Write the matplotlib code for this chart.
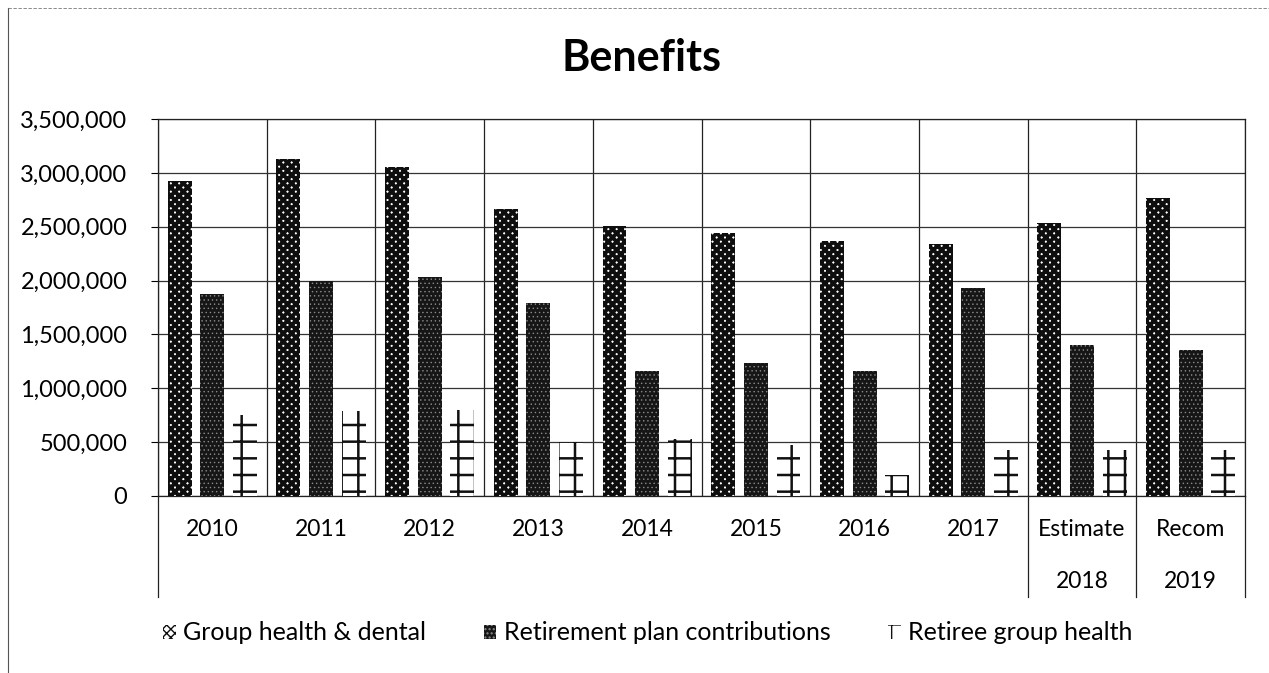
import matplotlib
matplotlib.use("Agg")
import matplotlib.pyplot as plt
import numpy as np
from matplotlib.ticker import FuncFormatter, MultipleLocator
from matplotlib.lines import Line2D

plt.rcParams['font.family'] = ['Lato', 'DejaVu Sans']

# Category labels (two rows under the axis)
labels_top = ["2010", "2011", "2012", "2013", "2014", "2015", "2016", "2017", "Estimate", "Recom"]
labels_bottom = ["", "", "", "", "", "", "", "", "2018", "2019"]

# Series values
group_health = [2920000, 3130000, 3055000, 2665000, 2510000, 2440000, 2365000, 2340000, 2535000, 2770000]
retirement = [1875000, 2000000, 2030000, 1795000, 1160000, 1235000, 1165000, 1935000, 1400000, 1360000]
retiree_health = [755000, 785000, 795000, 505000, 530000, 470000, 195000, 425000, 430000, 430000]

series_names = ["Group health & dental", "Retirement plan contributions", "Retiree group health"]

W, H = 1269, 673
fig = plt.figure(figsize=(W / 100, H / 100), dpi=100)
ax = fig.add_axes([158 / W, 1 - 496 / H, (1245 - 158) / W, (496 - 119) / H])

x = np.arange(len(labels_top))
bw = 0.22
off = 0.30

with plt.rc_context({'hatch.linewidth': 2.8}):
    b1 = ax.bar(x - off, group_health, bw, facecolor='white', edgecolor='#0e0e0e',
                hatch='xxxx', linewidth=0, zorder=3, label=series_names[0])
with plt.rc_context({'hatch.linewidth': 0.5}):
    b2 = ax.bar(x, retirement, bw, facecolor='#161616', edgecolor='#8a8a8a',
                hatch='....', linewidth=0, zorder=3, label=series_names[1])
with plt.rc_context({'hatch.linewidth': 1.8}):
    b3 = ax.bar(x + off, retiree_health, bw, facecolor='white', edgecolor='#111111',
                hatch='+', linewidth=0, zorder=3, label=series_names[2])

ax.set_xlim(-0.5, len(labels_top) - 0.5)
ax.set_ylim(0, 3500000)
ax.yaxis.set_major_locator(MultipleLocator(500000))
ax.yaxis.set_major_formatter(FuncFormatter(lambda v, p: f"{int(v):,}"))
ax.tick_params(axis='y', labelsize=17, length=5, width=0.8, direction='out', pad=17)

# Category boundaries as vertical grid lines
ax.set_xticks(np.arange(-0.5, len(labels_top) - 0.4, 1.0), minor=True)
ax.set_xticks([])
ax.tick_params(axis='x', which='both', length=0, labelbottom=False)
ax.grid(axis='x', which='minor', color='#222222', linewidth=0.9, zorder=1)
ax.grid(axis='y', which='major', color='#333333', linewidth=0.9, zorder=1)
for s in ax.spines.values():
    s.set_color('#222222')
    s.set_linewidth(0.9)

# Two-row category labels
tr = ax.get_xaxis_transform()
for i, (t1, t2) in enumerate(zip(labels_top, labels_bottom)):
    ax.text(i, -0.090, t1, transform=tr, ha='center', va='center', fontsize=16.5)
    if t2:
        ax.text(i, -0.2255, t2, transform=tr, ha='center', va='center', fontsize=16.5)

# Separators below the axis
y_low = (496 - 597) / (496 - 119)
for xb in [-0.5, 7.5, 8.5, 9.5]:
    ax.add_line(Line2D([xb, xb], [0, y_low], transform=tr, color='#222222',
                       linewidth=0.9, clip_on=False))

fig.text(642 / W, 1 - 58 / H, "Benefits", ha='center', va='center',
         fontsize=31, fontweight='bold')

fig.legend(handles=[b1, b2, b3], loc='center', bbox_to_anchor=(648 / W, 1 - 633 / H),
           ncol=3, frameon=False, fontsize=18, handlelength=0.5, handleheight=0.5,
           handletextpad=0.3, columnspacing=2.3)

# Outer frame
fig.add_artist(Line2D([8 / W, 8 / W], [0, 1 - 8 / H], transform=fig.transFigure,
                      color='#555555', linewidth=0.8))
fig.add_artist(Line2D([8 / W, 1], [1 - 8 / H, 1 - 8 / H], transform=fig.transFigure,
                      color='#777777', linewidth=0.6, linestyle=(0, (4, 2))))

fig.savefig("out.png", dpi=100)
